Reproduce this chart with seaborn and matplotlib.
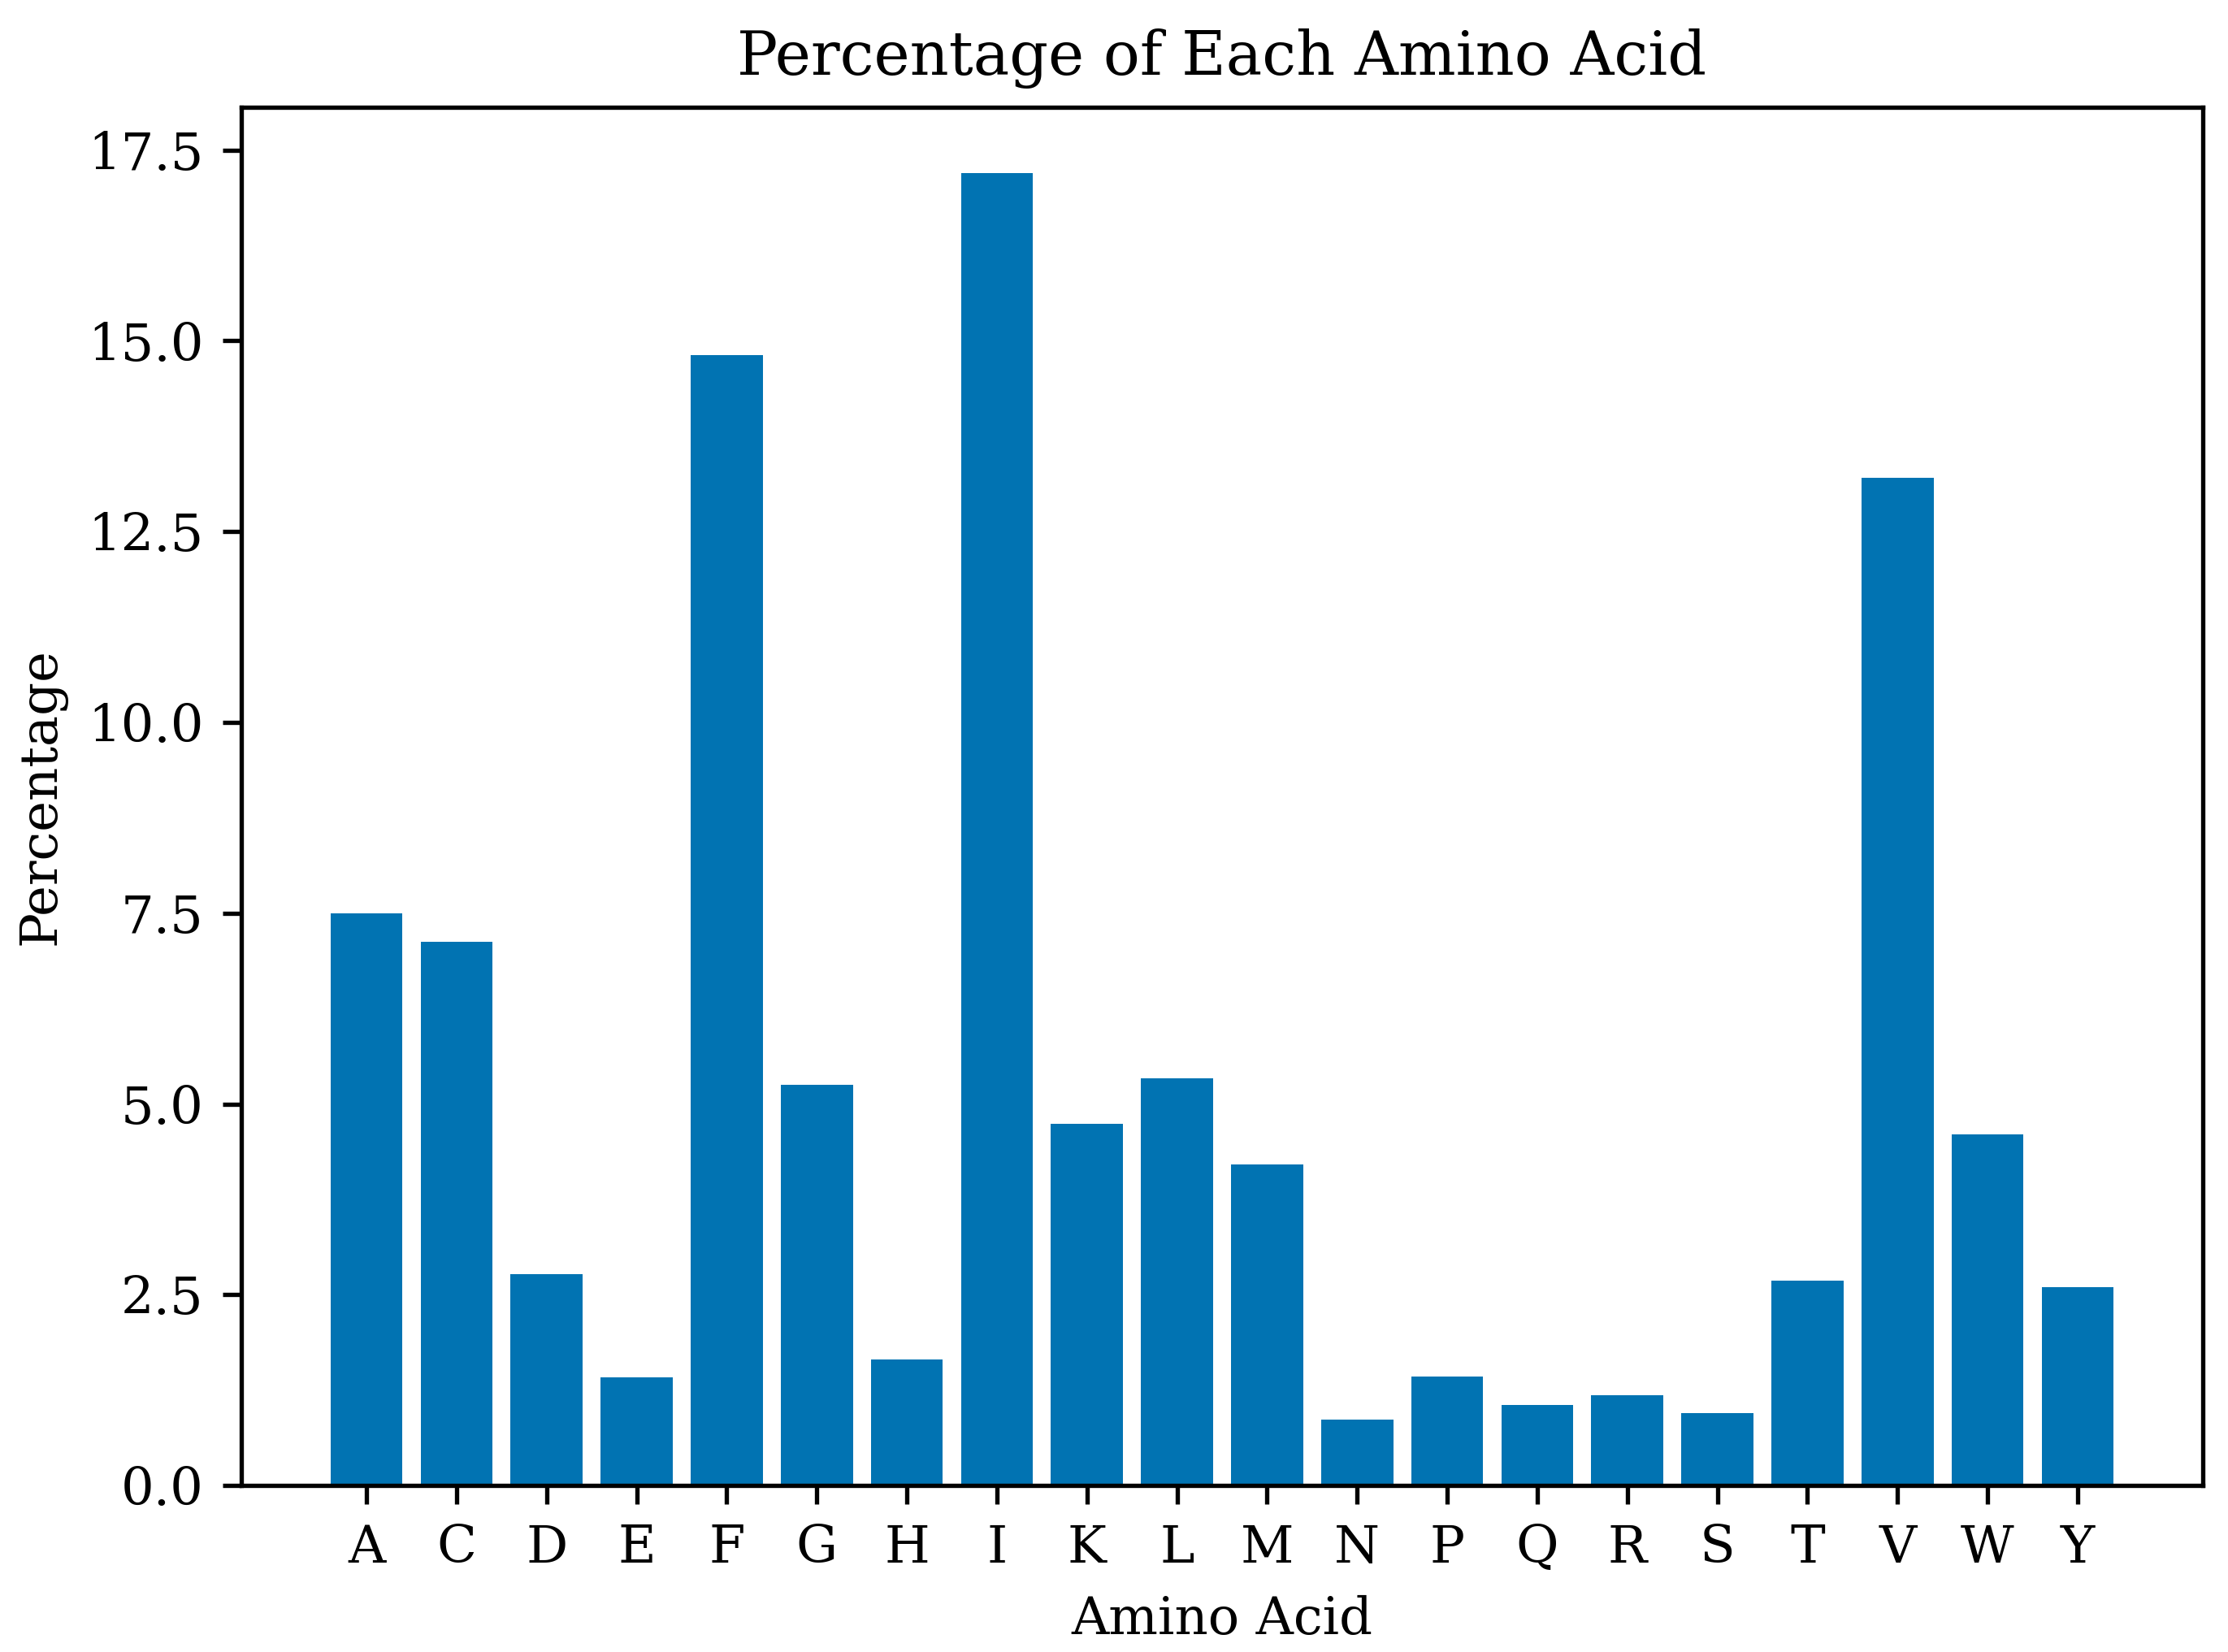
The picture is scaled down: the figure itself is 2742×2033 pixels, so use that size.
import matplotlib
matplotlib.use("Agg")
import matplotlib.pyplot as plt
import seaborn as sns
import pandas as pd

acids = ["A", "C", "D", "E", "F", "G", "H", "I", "K", "L",
         "M", "N", "P", "Q", "R", "S", "T", "V", "W", "Y"]
percentages = [7.50, 7.12, 2.77, 1.42, 14.81, 5.25, 1.65, 17.20, 4.74, 5.34,
               4.21, 0.86, 1.43, 1.05, 1.18, 0.95, 2.68, 13.21, 4.60, 2.60]

df = pd.DataFrame({"Amino Acid": acids, "Percentage": percentages})

plt.rcParams['font.family'] = ['DejaVu Serif']
plt.rcParams['font.size'] = 9.6

fig = plt.figure(figsize=(2742 / 480, 2033 / 480), dpi=480)
ax = fig.add_axes([0.1083, 0.1008, 0.8804, 0.8342])

sns.barplot(data=df, x="Amino Acid", y="Percentage", color="#0173B2",
            saturation=1, width=0.8, ax=ax)

ax.set_xlim(-1.39, len(acids) - 1 + 1.39)
ax.set_ylim(0, max(percentages) * 1.05)
ax.set_title("Percentage of Each Amino Acid", fontsize=11.2)
ax.set_xlabel("Amino Acid")
ax.set_ylabel("Percentage")
for s in ax.spines.values():
    s.set_visible(True)
    s.set_color("black")

fig.savefig("out.png", dpi=480)
